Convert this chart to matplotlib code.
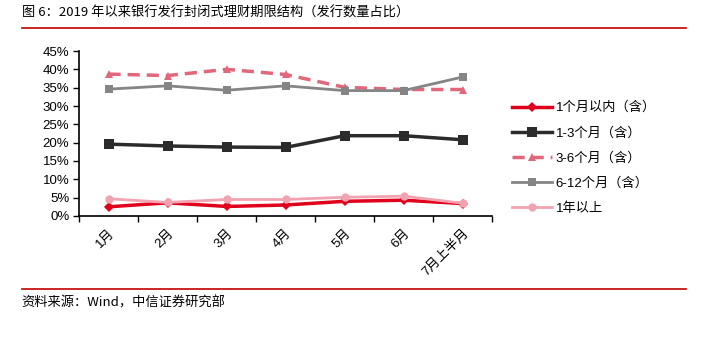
import matplotlib.pyplot as plt
import numpy as np
from matplotlib.ticker import FixedLocator, PercentFormatter

plt.rcParams['font.family'] = ['Liberation Sans', 'Noto Sans CJK SC']

months = ["1月", "2月", "3月", "4月", "5月", "6月", "7月上半月"]

within_1m = [2.5, 3.6, 2.6, 3.0, 4.0, 4.3, 3.4]
m1_3 = [19.6, 19.1, 18.8, 18.7, 21.9, 21.9, 20.8]
m3_6 = [38.7, 38.3, 40.0, 38.6, 35.1, 34.5, 34.5]
m6_12 = [34.6, 35.5, 34.3, 35.5, 34.2, 34.2, 37.9]
over_1y = [4.7, 3.7, 4.5, 4.5, 5.1, 5.4, 3.5]

series = [
    ("1个月以内（含）", within_1m, dict(color="#e0001b", lw=2.5, ls="-", marker="D", ms=5)),
    ("1-3个月（含）", m1_3, dict(color="#2b2b2b", lw=2.5, ls="-", marker="s", ms=6.5)),
    ("3-6个月（含）", m3_6, dict(color="#e3677b", lw=2.5, ls=(0, (3.5, 2)), marker="^", ms=6)),
    ("6-12个月（含）", m6_12, dict(color="#858585", lw=2, ls="-", marker="s", ms=6)),
    ("1年以上", over_1y, dict(color="#f2a3b1", lw=2, ls="-", marker="o", ms=6)),
]

fig = plt.figure(figsize=(7.03, 3.41), dpi=100)
ax = fig.add_axes([0.1124, 0.3666, 0.5875, 0.4838])

x = np.arange(len(months))
for name, vals, style in series:
    ax.plot(x, vals, label=name, markeredgewidth=0, **style)

ax.set_xlim(-0.5, len(months) - 0.5)
ax.set_ylim(0, 45)
ax.set_yticks(np.arange(0, 46, 5))
ax.yaxis.set_major_formatter(PercentFormatter(decimals=0))
ax.tick_params(axis='y', labelsize=9.5, direction='out', length=4, width=1, pad=3)

ax.set_xticks(x)
ax.set_xticklabels(months, rotation=45, ha='right', rotation_mode='anchor')
ax.xaxis.set_minor_locator(FixedLocator(np.arange(-0.5, len(months), 1.0)))
ax.tick_params(axis='x', which='major', length=0, labelsize=9.5, pad=8)
ax.tick_params(axis='x', which='minor', length=4, width=1, direction='out')

for s in ['top', 'right']:
    ax.spines[s].set_visible(False)
for s in ['left', 'bottom']:
    ax.spines[s].set_linewidth(1.2)

ax.legend(loc='upper left', bbox_to_anchor=(1.02, 0.765), frameon=False,
          fontsize=9.5, handlelength=3.0, labelspacing=0.95, handletextpad=0.3)

fig.text(0.031, 0.962, "图 6：2019 年以来银行发行封闭式理财期限结构（发行数量占比）",
         fontsize=9.5, va='center', ha='left', family=['Noto Sans CJK SC'])
fig.add_artist(plt.Line2D([0.031, 0.976], [0.917, 0.917], color="#c00000", lw=1.2))
fig.add_artist(plt.Line2D([0.031, 0.976], [0.153, 0.153], color="#c00000", lw=1.2))
fig.text(0.031, 0.113, "资料来源：Wind，中信证券研究部",
         fontsize=9.5, va='center', ha='left', family=['Noto Sans CJK SC'])

fig.savefig("out.png", dpi=100)
